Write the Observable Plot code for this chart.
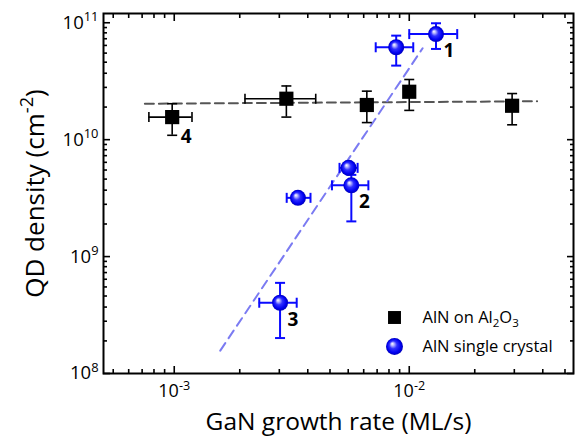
<!DOCTYPE html>
<html><head><meta charset="utf-8">
<script src="https://cdn.jsdelivr.net/npm/d3@7"></script>
<script src="https://cdn.jsdelivr.net/npm/@observablehq/plot@0.6"></script>
<style>body{margin:0;background:#fff;} svg{display:block}</style>
</head><body><div id="chart"></div>
<script>
// --- AlN on Al2O3 (black squares) ---
const aloRate      = [0.98e-3, 3.0e-3, 6.6e-3, 1.0e-2, 2.74e-2];
const aloDensity   = [1.56e10, 2.24e10, 1.98e10, 2.57e10, 1.95e10];
const aloRateLo    = [7.8e-4, 2.0e-3, null, null, null];
const aloRateHi    = [1.19e-3, 4.0e-3, null, null, null];
const aloDensityLo = [1.09e10, 1.56e10, 1.4e10, 1.78e10, 1.34e10];
const aloDensityHi = [2.03e10, 2.88e10, 2.6e10, 3.27e10, 2.48e10];
const aloLabel     = ["4", "", "", "", ""];

// --- AlN single crystal (blue spheres) ---
const xtlRate      = [2.82e-3, 3.36e-3, 5.52e-3, 5.67e-3, 8.8e-3, 1.3e-2];
const xtlDensity   = [4.03e8, 3.18e9, 5.74e9, 4.07e9, 6.17e10, 8.0e10];
const xtlRateLo    = [2.3e-3, 3.01e-3, 5.05e-3, 4.69e-3, 7.2e-3, 1.0e-2];
const xtlRateHi    = [3.32e-3, 3.8e-3, 6.03e-3, 6.7e-3, 1.04e-2, 1.6e-2];
const xtlDensityLo = [2.01e8, null, null, 2.0e9, 4.3e10, 5.97e10];
const xtlDensityHi = [5.96e8, null, null, 5.0e9, 7.76e10, 9.9e10];
const xtlLabel     = ["3", "", "", "2", "", "1"];

// --- dashed guide lines ---
const aloFitRate    = [7.5e-4, 3.5e-2];
const aloFitDensity = [2.03e10, 2.13e10];
const xtlFitRate    = [1.57e-3, 1.14e-2];
const xtlFitDensity = [1.57e8, 6.05e10];

// --- ticks ---
const xMajorTicks = [1e-3, 1e-2];
const xMinorTicks = [5.5e-4, 6.4e-4, 7.3e-4, 8.2e-4, 9.1e-4,
  1.9e-3, 2.8e-3, 3.7e-3, 4.6e-3, 5.5e-3, 6.4e-3, 7.3e-3, 8.2e-3, 9.1e-3,
  1.9e-2, 2.8e-2, 3.7e-2, 4.6e-2];
const yMajorTicks = [1e8, 1e9, 1e10, 1e11];
const yMinorTicks = [1.9e8, 2.8e8, 3.7e8, 4.6e8, 5.5e8, 6.4e8, 7.3e8, 8.2e8, 9.1e8,
  1.9e9, 2.8e9, 3.7e9, 4.6e9, 5.5e9, 6.4e9, 7.3e9, 8.2e9, 9.1e9,
  1.9e10, 2.8e10, 3.7e10, 4.6e10, 5.5e10, 6.4e10, 7.3e10, 8.2e10, 9.1e10];

// --- texts ---
const xTitle = "GaN growth rate (ML/s)";
const yTitle = "QD density (cm^{-2})";
const legendLabels = ["AlN on Al_{2}O_{3}", "AlN single crystal"];

const alo = aloRate.map((x, i) => ({rate: x, density: aloDensity[i], rateLo: aloRateLo[i], rateHi: aloRateHi[i], dLo: aloDensityLo[i], dHi: aloDensityHi[i], label: aloLabel[i]}));
const xtl = xtlRate.map((x, i) => ({rate: x, density: xtlDensity[i], rateLo: xtlRateLo[i], rateHi: xtlRateHi[i], dLo: xtlDensityLo[i], dHi: xtlDensityHi[i], label: xtlLabel[i]}));
const aloFit = aloFitRate.map((x, i) => ({rate: x, density: aloFitDensity[i]}));
const xtlFit = xtlFitRate.map((x, i) => ({rate: x, density: xtlFitDensity[i]}));

const vbar = {draw(ctx, size) { const r = Math.sqrt(size / Math.PI); ctx.moveTo(0, -r); ctx.lineTo(0, r); }};
const hbar = {draw(ctx, size) { const r = Math.sqrt(size / Math.PI); ctx.moveTo(-r, 0); ctx.lineTo(r, 0); }};

function errorMarks(rows, color, sw) {
  const hx = rows.filter(d => d.rateLo != null);
  const vy = rows.filter(d => d.dLo != null);
  return [
    Plot.ruleY(hx, {y: "density", x1: "rateLo", x2: "rateHi", stroke: color, strokeWidth: sw}),
    Plot.ruleX(vy, {x: "rate", y1: "dLo", y2: "dHi", stroke: color, strokeWidth: sw}),
    Plot.dot(hx, {x: "rateLo", y: "density", symbol: vbar, r: 5, fill: "none", stroke: color, strokeWidth: sw}),
    Plot.dot(hx, {x: "rateHi", y: "density", symbol: vbar, r: 5, fill: "none", stroke: color, strokeWidth: sw}),
    Plot.dot(vy, {x: "rate", y: "dLo", symbol: hbar, r: 5, fill: "none", stroke: color, strokeWidth: sw}),
    Plot.dot(vy, {x: "rate", y: "dHi", symbol: hbar, r: 5, fill: "none", stroke: color, strokeWidth: sw})
  ];
}

const powLabel = d => `10^{${Math.round(Math.log10(d))}}`;
const blank = () => "";

const chart = Plot.plot({
  width: 579, height: 437,
  marginLeft: 103, marginRight: 6, marginTop: 13, marginBottom: 64,
  x: {type: "log", domain: [5e-4, 5e-2]},
  y: {type: "log", domain: [1e8, 1.2e11]},
  style: {fontFamily: "'Open Sans', sans-serif", background: "white", color: "black"},
  marks: [
    Plot.line(aloFit, {x: "rate", y: "density", stroke: "#555555", strokeWidth: 2, strokeDasharray: "9,5"}),
    Plot.line(xtlFit, {x: "rate", y: "density", stroke: "#7b7bf2", strokeWidth: 2, strokeDasharray: "9,6"}),
    ...errorMarks(alo, "black", 1.6),
    Plot.dot(alo, {x: "rate", y: "density", symbol: "square", r: 8, fill: "black"}),
    ...errorMarks(xtl, "#0a0aff", 2),
    Plot.dot(xtl, {x: "rate", y: "density", r: 8, fill: "url(#sph)"}),
    Plot.text(alo.filter(d => d.label), {x: "rate", y: "density", text: "label", dx: 14, dy: 20, fontWeight: "bold", fontSize: 19}),
    Plot.text(xtl.filter(d => d.label), {x: "rate", y: "density", text: "label", dx: 13, dy: 17, fontWeight: "bold", fontSize: 19}),
    // legend
    Plot.dot([legendLabels[0]], {frameAnchor: "top-left", dx: 291, dy: 304, symbol: "square", r: 7.3, fill: "black"}),
    Plot.dot([legendLabels[1]], {frameAnchor: "top-left", dx: 291, dy: 333, r: 8.5, fill: "url(#sph)"}),
    Plot.text([legendLabels[0]], {frameAnchor: "top-left", dx: 319, dy: 304, text: d => d, textAnchor: "start", lineAnchor: "middle", fontSize: 16.5}),
    Plot.text([legendLabels[1]], {frameAnchor: "top-left", dx: 319, dy: 333, text: d => d, textAnchor: "start", lineAnchor: "middle", fontSize: 16.5}),
    // axes: inward ticks on all four sides
    Plot.axisX(xMajorTicks, {anchor: "bottom", tickSize: -7, tickFormat: blank, strokeWidth: 1.6, label: null}),
    Plot.axisX(xMinorTicks, {anchor: "bottom", tickSize: -4, tickFormat: blank, strokeWidth: 1.6, label: null}),
    Plot.axisX(xMajorTicks, {anchor: "top", tickSize: -7, tickFormat: blank, strokeWidth: 1.6, label: null}),
    Plot.axisX(xMinorTicks, {anchor: "top", tickSize: -4, tickFormat: blank, strokeWidth: 1.6, label: null}),
    Plot.axisY(yMajorTicks, {anchor: "left", tickSize: -7, tickFormat: blank, strokeWidth: 1.6, label: null}),
    Plot.axisY(yMinorTicks, {anchor: "left", tickSize: -4, tickFormat: blank, strokeWidth: 1.6, label: null}),
    Plot.axisY(yMajorTicks, {anchor: "right", tickSize: -7, tickFormat: blank, strokeWidth: 1.6, label: null}),
    Plot.axisY(yMinorTicks, {anchor: "right", tickSize: -4, tickFormat: blank, strokeWidth: 1.6, label: null}),
    Plot.axisX(xMajorTicks, {anchor: "bottom", tickSize: 0, tickPadding: 11, tickFormat: powLabel, fontSize: 18, label: null}),
    Plot.axisY(yMajorTicks, {anchor: "left", tickSize: 0, tickPadding: 5, tickFormat: powLabel, fontSize: 18.5, label: null}),
    Plot.text([xTitle], {frameAnchor: "bottom", dy: 48.5, text: d => d, textAnchor: "middle", lineAnchor: "middle", fontSize: 24.5}),
    Plot.text([yTitle], {frameAnchor: "left", dx: -68, rotate: -90, text: d => d, textAnchor: "middle", lineAnchor: "middle", fontSize: 26}),
    Plot.frame({stroke: "black", strokeWidth: 2})
  ]
});

document.getElementById("chart").appendChild(chart);

// sphere gradient
const svg = d3.select(chart);
const defs = svg.insert("defs", ":first-child");
const grad = defs.append("radialGradient").attr("id", "sph")
  .attr("cx", "50%").attr("cy", "50%").attr("r", "50%").attr("fx", "36%").attr("fy", "33%");
[[0, "#ffffff"], [0.18, "#b8b8ff"], [0.45, "#3030ff"], [0.8, "#0000f0"], [1, "#0000b8"]]
  .forEach(([o, c]) => grad.append("stop").attr("offset", o).attr("stop-color", c));

// rich text (superscripts / subscripts)
function richify(root) {
  root.querySelectorAll("text").forEach(t => {
    const s = t.textContent;
    if (!/[\^_]\{/.test(s)) return;
    const fs = parseFloat(getComputedStyle(t).fontSize) || 16;
    while (t.firstChild) t.removeChild(t.firstChild);
    const re = /([\^_])\{([^}]*)\}/g;
    let last = 0, m, off = 0;
    const add = (str, kind) => {
      if (!str) return;
      const ts = document.createElementNS("http://www.w3.org/2000/svg", "tspan");
      const target = kind === "^" ? -0.42 * fs : kind === "_" ? 0.25 * fs : 0;
      const dy = target - off;
      if (dy) ts.setAttribute("dy", dy.toFixed(2));
      off = target;
      if (kind) ts.setAttribute("font-size", (0.7 * fs).toFixed(1));
      ts.textContent = str;
      t.appendChild(ts);
    };
    while ((m = re.exec(s))) {
      add(s.slice(last, m.index), null);
      add(m[2], m[1]);
      last = re.lastIndex;
    }
    add(s.slice(last), null);
  });
}
richify(chart);
</script>
</body></html>
